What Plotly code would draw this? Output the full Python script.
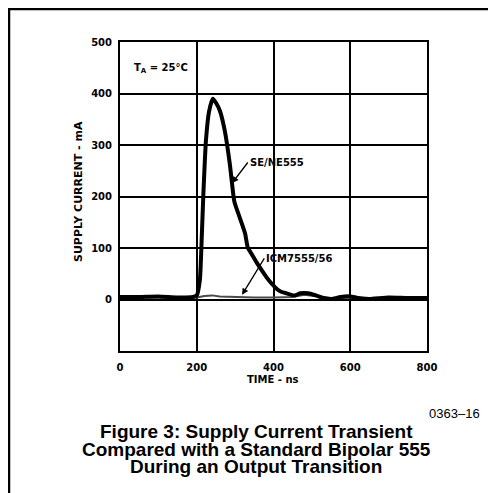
import plotly.graph_objects as go

# ---- data ----
se_t = [0, 50, 100, 150, 190, 200, 208, 213, 217, 224, 232, 242, 250, 260, 273, 286, 292, 298,
        312, 326, 333, 345, 356, 370, 382, 395, 408, 420, 434, 455, 470, 490, 510, 530, 550,
        575, 600, 620, 650, 700, 750, 800]
se_v = [5, 5, 6, 4, 5, 8, 37, 120, 200, 309, 365, 390, 382, 367, 328, 264, 225, 190,
        159, 128, 101, 86, 72, 56, 43, 31, 21, 15, 12, 8, 12, 12, 8, 3, 1,
        5, 6, 3, 1, 4, 3, 3]

icm_t = [0, 50, 100, 150, 200, 220, 240, 260, 300, 350, 400, 450, 480, 500, 550, 600, 650, 700, 750, 800]
icm_v = [4, 4, 5, 4, 4, 7, 8, 6, 5, 4, 4, 5, 9, 7, 3, 4, 3, 4, 3, 4]

x_ticks = [0, 200, 400, 600, 800]
y_ticks = [0, 100, 200, 300, 400, 500]

title_lines = ["Figure 3: Supply Current Transient",
               "Compared with a Standard Bipolar 555",
               "During an Output Transition"]

# ---- layout geometry (page pixels; page body has an 8px margin) ----
OFF = 8
PW, PH = 496, 493
L, R, T, B = 120, 427, 42, 351          # plot area in page pixels
W, H = PW - OFF, PH - OFF                # figure size


def xp(px):
    return (px - L) / (R - L)


def yp(py):
    return (B - py) / (B - T)


LBL = dict(family="DejaVu Sans", size=10, color="black", weight="bold")

fig = go.Figure()
fig.add_trace(go.Scatter(x=icm_t, y=icm_v, mode="lines",
                         line=dict(color="#4a4a4a", width=2), hoverinfo="skip"))
fig.add_trace(go.Scatter(x=se_t, y=se_v, mode="lines",
                         line=dict(color="black", width=4, shape="spline", smoothing=0.6),
                         hoverinfo="skip"))

axis_common = dict(showgrid=True, gridcolor="black", gridwidth=1.5,
                   showline=True, linecolor="black", linewidth=2, mirror=True,
                   ticks="", tickfont=LBL, zeroline=False, fixedrange=True)

fig.update_xaxes(range=[0, 800], tickvals=x_ticks, ticktext=[str(v) for v in x_ticks],
                 ticklabelstandoff=6, **axis_common)
fig.update_yaxes(range=[-100, 500], tickvals=y_ticks, ticktext=[str(v) for v in y_ticks],
                 ticklabelstandoff=4, **axis_common)

ann = []
# axis titles
ann.append(dict(x=xp(273), y=yp(379), xref="paper", yref="paper", text="TIME - ns",
                showarrow=False, font=LBL, xanchor="center", yanchor="middle"))
ann.append(dict(x=xp(78), y=yp(192), xref="paper", yref="paper", text="SUPPLY CURRENT - mA",
                showarrow=False, textangle=-90, font=dict(LBL, size=11),
                xanchor="center", yanchor="middle"))
# in-plot labels
ann.append(dict(x=31, y=449, xref="x", yref="y", text="T<sub>A</sub> = 25°C",
                showarrow=False, font=LBL, xanchor="left", yanchor="middle"))
# labels with arrows (text sits at the arrow tail)
ann.append(dict(x=292, y=226, xref="x", yref="y", ax=333, ay=266, axref="x", ayref="y",
                text="SE/NE555", font=LBL, xanchor="left", yanchor="middle",
                showarrow=True, arrowhead=2, arrowsize=1, arrowwidth=1.3, arrowcolor="black"))
ann.append(dict(x=318, y=9, xref="x", yref="y", ax=376, ay=80, axref="x", ayref="y",
                text="ICM7555/56", font=LBL, xanchor="left", yanchor="middle",
                showarrow=True, arrowhead=2, arrowsize=1, arrowwidth=1.3, arrowcolor="black"))
# figure id
ann.append(dict(x=xp(482), y=yp(413), xref="paper", yref="paper", text="0363–16",
                showarrow=False, font=dict(family="Liberation Sans", size=13, color="black"),
                xanchor="right", yanchor="middle"))
# caption
for line, cy in zip(title_lines, [432, 449, 466]):
    ann.append(dict(x=xp(256), y=yp(cy), xref="paper", yref="paper", text=line,
                    showarrow=False,
                    font=dict(family="Liberation Sans", size=19, color="black", weight="bold"),
                    xanchor="center", yanchor="middle"))

shapes = [
    dict(type="line", xref="paper", yref="paper", x0=xp(9), x1=xp(9), y0=yp(9), y1=yp(505),
         line=dict(color="black", width=2.5)),
    dict(type="line", xref="paper", yref="paper", x0=xp(8), x1=xp(505), y0=yp(9), y1=yp(9),
         line=dict(color="black", width=2.5)),
]

fig.update_layout(width=W, height=H, autosize=False,
                  margin=dict(l=L - OFF, r=W - (R - OFF), t=T - OFF, b=H - (B - OFF), pad=0),
                  paper_bgcolor="white", plot_bgcolor="white",
                  showlegend=False, annotations=ann, shapes=shapes)

fig.write_html("out.html", config={"displayModeBar": False})
